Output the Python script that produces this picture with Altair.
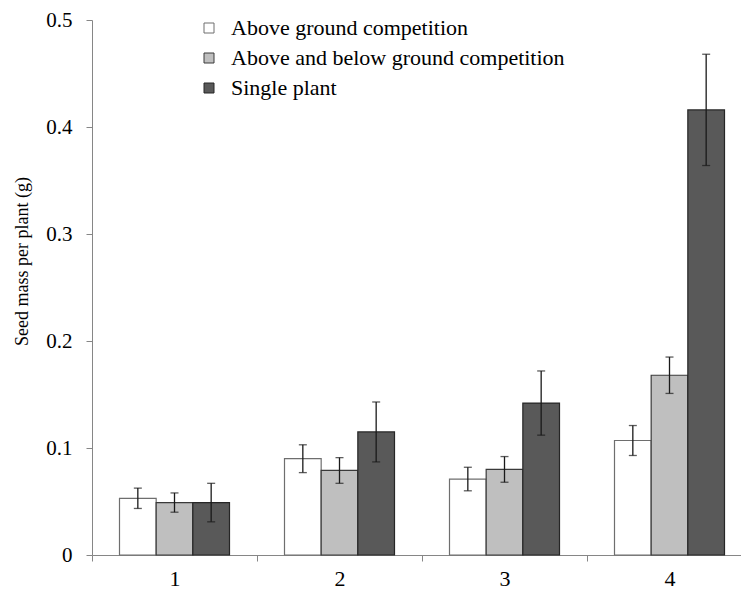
import altair as alt
import pandas as pd

# Plant density groups along the x axis
groups = ["1", "2", "3", "4"]

# Treatments (legend order)
treatments = [
    "Above ground competition",
    "Above and below ground competition",
    "Single plant",
]

# Mean seed mass per plant (g) for each treatment, per group
mean_above = [0.053, 0.090, 0.071, 0.107]
mean_both = [0.049, 0.079, 0.080, 0.168]
mean_single = [0.049, 0.115, 0.142, 0.416]

# Standard errors (g)
se_above = [0.0095, 0.013, 0.011, 0.014]
se_both = [0.009, 0.012, 0.012, 0.017]
se_single = [0.018, 0.028, 0.030, 0.052]

rows = []
for t, means, ses in zip(treatments, [mean_above, mean_both, mean_single],
                         [se_above, se_both, se_single]):
    for g, m, s in zip(groups, means, ses):
        rows.append({"group": g, "treatment": t, "mass": m,
                     "low": m - s, "high": m + s})
df = pd.DataFrame(rows)

FONT = "Liberation Serif"
AXIS_GREY = "#868686"
Y_TITLE = "Seed mass per plant (g)"

x_enc = alt.X(
    "group:N",
    scale=alt.Scale(domain=groups, range=[0, 660], paddingInner=0, paddingOuter=0),
    axis=alt.Axis(title=None, labelAngle=0, tickBand="extent", tickSize=6,
                  labelPadding=7, labelFontSize=22, labelFont=FONT,
                  labelColor="black", domainColor=AXIS_GREY, tickColor=AXIS_GREY),
)
xoff_enc = alt.XOffset(
    "treatment:N",
    scale=alt.Scale(domain=treatments, paddingInner=0, paddingOuter=0.75),
)

y_axis = alt.Axis(
    title=Y_TITLE, values=[0, 0.1, 0.2, 0.3, 0.4, 0.5], format="~g",
    grid=False, tickSize=6, labelPadding=14, labelFontSize=21, labelFont=FONT,
    labelColor="black", domainColor=AXIS_GREY, tickColor=AXIS_GREY,
    titleFont=FONT, titleColor="black",
    titleFontSize=18, titleFontWeight="normal", titleAngle=270,
    titleX=-70, titleY=241, titleAlign="center", titleBaseline="middle",
)
y_scale = alt.Scale(domain=[0, 0.5], nice=False, zero=True)

bars = alt.Chart(df).mark_bar(strokeWidth=1.2).encode(
    x=x_enc,
    xOffset=xoff_enc,
    y=alt.Y("mass:Q", scale=y_scale, axis=y_axis, title=Y_TITLE),
    fill=alt.Fill(
        "treatment:N",
        scale=alt.Scale(domain=treatments, range=["#ffffff", "#bfbfbf", "#595959"]),
        legend=alt.Legend(
            title=None, orient="none", legendX=106, legendY=-3,
            symbolType="square", symbolSize=100, symbolStrokeColor="#404040",
            symbolStrokeWidth=1, labelFont=FONT, labelColor="black",
            labelFontSize=22, labelOffset=11, labelLimit=0,
            rowPadding=8, padding=0,
        ),
    ),
    stroke=alt.Stroke(
        "treatment:N",
        scale=alt.Scale(domain=treatments, range=["#6e6e6e", "#3a3a3a", "#262626"]),
        legend=None,
    ),
)

ERR = "#1a1a1a"

whiskers = alt.Chart(df).mark_rule(color=ERR, strokeWidth=1.3).encode(
    x=x_enc,
    xOffset=xoff_enc,
    y=alt.Y("low:Q", scale=y_scale, axis=y_axis, title=Y_TITLE),
    y2="high:Q",
)

caps = alt.Chart(df).transform_fold(["low", "high"], as_=["end", "value"]).mark_tick(
    color=ERR, thickness=1.3, size=8
).encode(
    x=x_enc,
    xOffset=xoff_enc,
    y=alt.Y("value:Q", scale=y_scale, axis=y_axis, title=Y_TITLE),
)

chart = (
    alt.layer(bars, whiskers, caps)
    .properties(
        width=649, height=535,
        autosize=alt.AutoSizeParams(type="none"),
        padding={"left": 92, "top": 20, "right": 0, "bottom": 37},
        background="white",
    )
    .configure_view(stroke=None)
    .configure_axis(
        domainColor=AXIS_GREY, tickColor=AXIS_GREY, domainWidth=1, tickWidth=1,
        labelColor="black", labelFont=FONT, titleFont=FONT, titleColor="black",
    )
    .configure_legend(labelFont=FONT, labelColor="black", labelLimit=0)
)

chart.save("out.html", embed_options={"renderer": "svg", "actions": False})
